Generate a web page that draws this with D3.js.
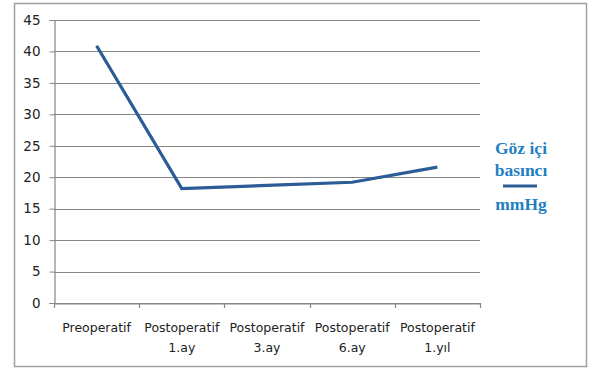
<!DOCTYPE html>
<html>
<head>
<meta charset="utf-8">
<script src="https://cdn.jsdelivr.net/npm/d3@7"></script>
<style>
  body { margin: 0; background: #fff; }
</style>
</head>
<body>
<div id="chart"></div>
<script>
// data
var categories = ["Preoperatif", "Postoperatif 1.ay", "Postoperatif 3.ay", "Postoperatif 6.ay", "Postoperatif 1.yıl"];
var pressure = [40.9, 18.2, 18.7, 19.2, 21.6];
var yTicks = [0, 5, 10, 15, 20, 25, 30, 35, 40, 45];
var legendLines = ["Göz içi", "basıncı", "mmHg"];

var W = 590, H = 369;
var margin = {top: 20, right: 110, bottom: 66, left: 54},
    width = 480 - margin.left,
    height = 303 - margin.top;

var svg = d3.select("#chart")
  .append("svg")
    .attr("width", W)
    .attr("height", H);

// outer frame
svg.append("rect")
  .attr("x", 14.5).attr("y", 3.5)
  .attr("width", 572).attr("height", 363)
  .attr("fill", "none")
  .attr("stroke", "#a0a0a0")
  .attr("stroke-width", 1.5);

var g = svg.append("g")
  .attr("transform", "translate(" + margin.left + "," + margin.top + ")");

var x = d3.scaleBand()
  .domain(categories)
  .range([0, width]);

var y = d3.scaleLinear()
  .domain([0, 45])
  .range([height, 0]);

// gridlines
g.selectAll(".grid")
  .data(yTicks)
  .enter().append("line")
    .attr("x1", 0).attr("x2", width)
    .attr("y1", d => Math.round(y(d)) + 0.5)
    .attr("y2", d => Math.round(y(d)) + 0.5)
    .attr("stroke", "#868686")
    .attr("stroke-width", 1.2);

// y axis
var yAxis = g.append("g")
  .attr("transform", "translate(0.5,0)")
  .call(d3.axisLeft(y).tickValues(yTicks).tickSize(5).tickPadding(9));
yAxis.select(".domain").attr("stroke", "#868686").attr("stroke-width", 1.2);
yAxis.selectAll(".tick line").attr("stroke", "#868686");
yAxis.selectAll("text")
  .attr("font-family", "DejaVu Sans, Verdana, sans-serif")
  .attr("font-size", 13.5)
  .attr("fill", "#222");

// x axis
var xAxis = g.append("g")
  .attr("transform", "translate(0," + (Math.round(height) + 0.5) + ")")
  .call(d3.axisBottom(x).tickSize(0).tickFormat(""));
xAxis.select(".domain").attr("stroke", "#868686").attr("stroke-width", 1.2);

// tick marks between categories
var edges = categories.map(c => x(c)).concat([width]);
g.selectAll(".xtick")
  .data(edges)
  .enter().append("line")
    .attr("x1", d => Math.round(d) + 0.5)
    .attr("x2", d => Math.round(d) + 0.5)
    .attr("y1", height)
    .attr("y2", height + 5)
    .attr("stroke", "#868686")
    .attr("stroke-width", 1.2);

// category labels, two lines
var labels = g.selectAll(".xlabel")
  .data(categories)
  .enter().append("text")
    .attr("x", d => x(d) + x.bandwidth() / 2)
    .attr("y", height + 29)
    .attr("text-anchor", "middle")
    .attr("font-family", "DejaVu Sans, Verdana, sans-serif")
    .attr("font-size", 12.5)
    .attr("fill", "#222");
labels.each(function(d) {
  var parts = d.split(" ");
  var t = d3.select(this);
  t.append("tspan").attr("x", x(d) + x.bandwidth() / 2).text(parts[0]);
  if (parts[1]) {
    t.append("tspan").attr("x", x(d) + x.bandwidth() / 2).attr("dy", 20).text(parts[1]);
  }
});

// the line
var line = d3.line()
  .x((d, i) => x(categories[i]) + x.bandwidth() / 2)
  .y(d => y(d));

g.append("path")
  .datum(pressure)
  .attr("d", line)
  .attr("fill", "none")
  .attr("stroke", "#2b5c95")
  .attr("stroke-width", 3.2)
  .attr("stroke-linejoin", "miter");

// legend
var legend = svg.append("g").attr("transform", "translate(521,0)");
legend.selectAll("text")
  .data(legendLines)
  .enter().append("text")
    .attr("x", 0)
    .attr("y", (d, i) => [154, 176, 210][i])
    .attr("text-anchor", "middle")
    .attr("font-family", "Liberation Serif, Times New Roman, serif")
    .attr("font-weight", "bold")
    .attr("font-size", 17.5)
    .attr("fill", "#1f80c2")
    .text(d => d);
legend.append("line")
  .attr("x1", -18).attr("x2", 16)
  .attr("y1", 186).attr("y2", 186)
  .attr("stroke", "#2b5c95")
  .attr("stroke-width", 3.2);
</script>
</body>
</html>
